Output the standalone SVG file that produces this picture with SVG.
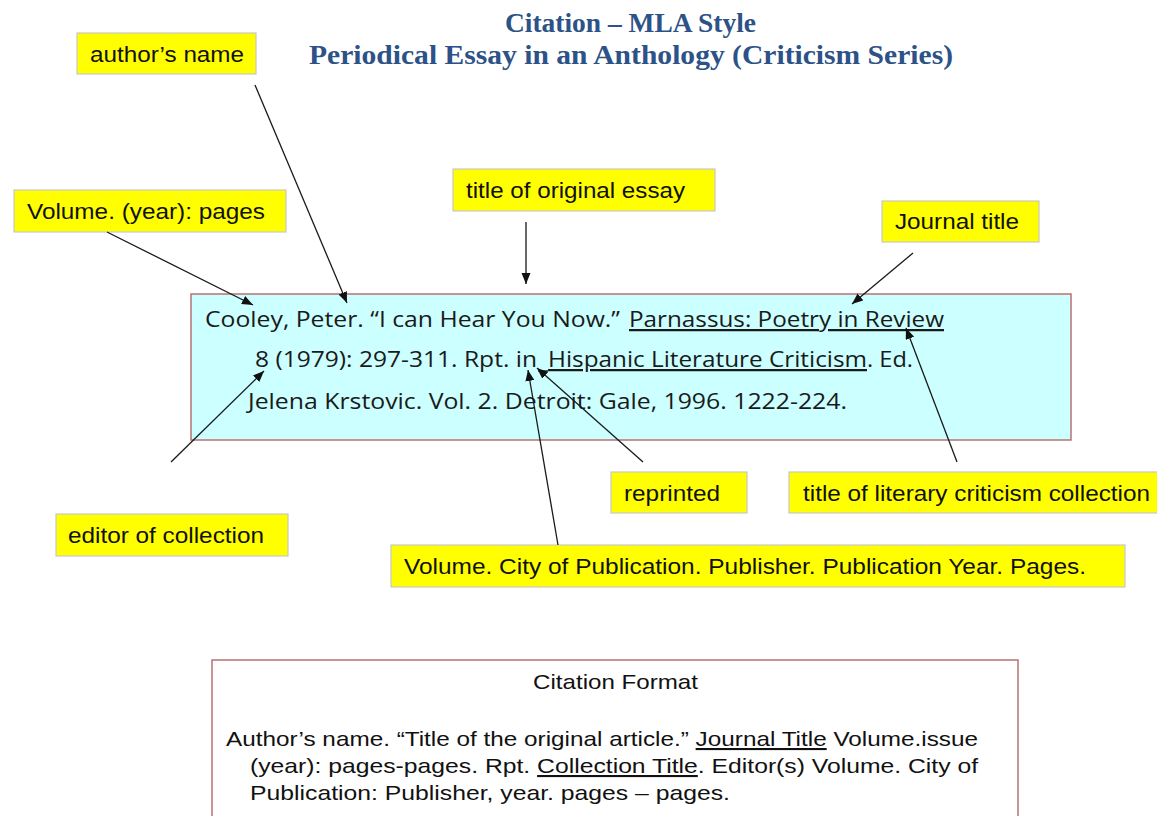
<svg xmlns="http://www.w3.org/2000/svg" width="1157" height="816" viewBox="0 0 1157 816">
<defs>
<style>
.lbl rect{fill:#ffff00;stroke:#c8c8c8;stroke-width:1.2}
.lbl text{font-family:"Liberation Sans",Arial,sans-serif;font-size:22px;fill:#111}
.title{font-family:"Liberation Serif","Times New Roman",serif;font-weight:bold;font-size:28px;fill:#2c5287}
.cit{font-family:"Open Sans","Liberation Sans",Arial,sans-serif;font-size:22.5px;fill:#1a1a1a}
.fmt{font-family:"Liberation Sans",Arial,sans-serif;font-size:21px;fill:#111}
.u{text-decoration:underline}
.conn line{stroke:#1a1a1a;stroke-width:1.3;marker-end:url(#ah)}
</style>
<marker id="ah" markerUnits="userSpaceOnUse" markerWidth="12" markerHeight="10" refX="11" refY="4.5" orient="auto">
<path d="M0,0 L11,4.5 L0,9 z" fill="#111"/>
</marker>
</defs>
<rect width="1157" height="816" fill="#fff"/>

<g id="title">
<text class="title" x="505" y="32" textLength="251" lengthAdjust="spacingAndGlyphs">Citation – MLA Style</text>
<text class="title" x="309" y="64" textLength="644" lengthAdjust="spacingAndGlyphs">Periodical Essay in an Anthology (Criticism Series)</text>
</g>

<g id="citation-example">
<rect x="191" y="294" width="880" height="146" fill="#ccffff" stroke="#b87272" stroke-width="1.5"/>
<text class="cit" x="205" y="327" textLength="415" lengthAdjust="spacingAndGlyphs">Cooley, Peter. “I can Hear You Now.”</text>
<text class="cit u" x="629" y="327" textLength="315" lengthAdjust="spacingAndGlyphs">Parnassus: Poetry in Review</text>
<text class="cit" x="255" y="367" textLength="282" lengthAdjust="spacingAndGlyphs">8 (1979): 297-311. Rpt. in</text>
<line x1="538" y1="371" x2="548" y2="371" stroke="#1a1a1a" stroke-width="1.4"/>
<text class="cit u" x="548" y="367" textLength="319" lengthAdjust="spacingAndGlyphs">Hispanic Literature Criticism</text>
<text class="cit" x="867" y="367" textLength="46" lengthAdjust="spacingAndGlyphs">. Ed.</text>
<text class="cit" x="248" y="409" textLength="599" lengthAdjust="spacingAndGlyphs">Jelena Krstovic. Vol. 2. Detroit: Gale, 1996. 1222-224.</text>
</g>

<g id="lbl-author" class="lbl">
<rect x="77" y="33" width="179" height="41"/>
<text x="90" y="62" textLength="154" lengthAdjust="spacingAndGlyphs">author’s name</text>
</g>
<g id="lbl-volume-year" class="lbl">
<rect x="14" y="190" width="272" height="42"/>
<text x="27" y="219" textLength="238" lengthAdjust="spacingAndGlyphs">Volume. (year): pages</text>
</g>
<g id="lbl-title-essay" class="lbl">
<rect x="453" y="169" width="262" height="42"/>
<text x="466" y="198" textLength="219" lengthAdjust="spacingAndGlyphs">title of original essay</text>
</g>
<g id="lbl-journal" class="lbl">
<rect x="882" y="201" width="157" height="41"/>
<text x="895" y="229" textLength="124" lengthAdjust="spacingAndGlyphs">Journal title</text>
</g>
<g id="lbl-reprinted" class="lbl">
<rect x="611" y="472" width="136" height="41"/>
<text x="624" y="501" textLength="96" lengthAdjust="spacingAndGlyphs">reprinted</text>
</g>
<g id="lbl-collection-title" class="lbl">
<rect x="789" y="472" width="372" height="41"/>
<text x="803" y="501" textLength="347" lengthAdjust="spacingAndGlyphs">title of literary criticism collection</text>
</g>
<g id="lbl-volume-city" class="lbl">
<rect x="391" y="545" width="734" height="42"/>
<text x="404" y="574" textLength="682" lengthAdjust="spacingAndGlyphs">Volume. City of Publication. Publisher. Publication Year. Pages.</text>
</g>
<g id="lbl-editor" class="lbl">
<rect x="56" y="514" width="232" height="42"/>
<text x="68" y="543" textLength="196" lengthAdjust="spacingAndGlyphs">editor of collection</text>
</g>

<g id="connectors" class="conn">
<line x1="255" y1="85" x2="347" y2="303"/>
<line x1="107" y1="232" x2="253" y2="305"/>
<line x1="526" y1="222" x2="526" y2="284"/>
<line x1="913" y1="253" x2="852" y2="304"/>
<line x1="171" y1="462" x2="264" y2="371"/>
<line x1="558" y1="545" x2="528" y2="370"/>
<line x1="643" y1="462" x2="537" y2="368"/>
<line x1="957" y1="462" x2="906" y2="328"/>
</g>

<g id="citation-format">
<rect x="212" y="660" width="806" height="170" fill="#fff" stroke="#b87272" stroke-width="1.5"/>
<text class="fmt" x="533" y="689" textLength="165" lengthAdjust="spacingAndGlyphs">Citation Format</text>
<text class="fmt" x="226" y="746" textLength="752" lengthAdjust="spacingAndGlyphs">Author’s name. “Title of the original article.” <tspan class="u">Journal Title</tspan> Volume.issue</text>
<text class="fmt" x="250" y="773" textLength="728" lengthAdjust="spacingAndGlyphs">(year): pages-pages. Rpt. <tspan class="u">Collection Title</tspan>. Editor(s) Volume. City of</text>
<text class="fmt" x="250" y="800" textLength="480" lengthAdjust="spacingAndGlyphs">Publication: Publisher, year. pages – pages.</text>
</g>
</svg>
